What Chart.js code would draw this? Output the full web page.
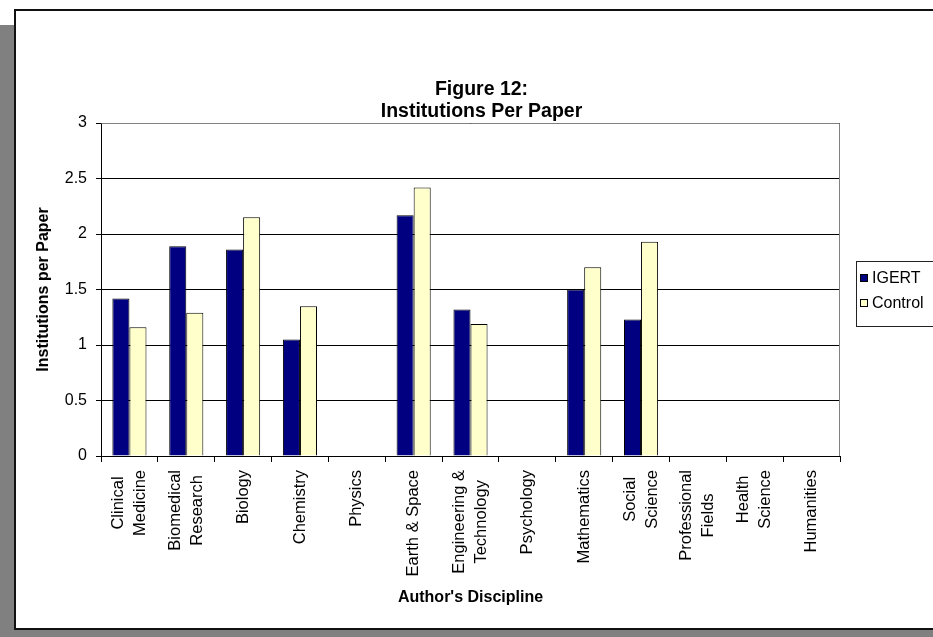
<!DOCTYPE html>
<html><head><meta charset="utf-8">
<script src="https://cdn.jsdelivr.net/npm/chart.js@4/dist/chart.umd.min.js"></script>
<style>
html,body{margin:0;padding:0;width:933px;height:637px;overflow:hidden;background:#fff;}
#shadow{position:absolute;left:0;top:25px;width:980px;height:660px;background:#808080;}
#panel{position:absolute;left:14px;top:9px;width:980px;height:617px;background:#fff;border:2px solid #111;}
#wrap{position:absolute;left:0;top:0;width:933px;height:637px;}
</style></head>
<body>
<div id="shadow"></div><div id="panel"></div>
<div id="wrap"><canvas id="c" width="933" height="637"></canvas></div>
<script>
const categories = [['Clinical','Medicine'],['Biomedical','Research'],'Biology','Chemistry','Physics','Earth & Space',['Engineering &','Technology'],'Psychology','Mathematics',['Social','Science'],['Professional','Fields'],['Health','Science'],'Humanities'];
const seriesNames = ['IGERT','Control'];
const igertValues = [1.42,1.89,1.86,1.05,null,2.17,1.32,null,1.50,1.23,null,null,null];
const controlValues = [1.16,1.29,2.15,1.35,null,2.42,1.19,null,1.70,1.93,null,null,null];
const yTickLabels = ['0','0.5','1','1.5','2','2.5','3'];
const titleLines = ['Figure 12:','Institutions Per Paper'];
const yTitle = 'Institutions per Paper';
const xTitle = "Author's Discipline";

const FONT = '"Liberation Sans", Arial, sans-serif';

const xLabelPlugin = {
  id:'xLabels',
  afterDraw(chart){
    const ctx = chart.ctx, xs = chart.scales.x;
    ctx.save();
    ctx.font = '16.5px ' + FONT;
    ctx.fillStyle = '#000';
    const lh = 22;
    chart.data.labels.forEach((lab,i)=>{
      const lines = Array.isArray(lab)?lab:[lab];
      const x = xs.getPixelForValue(i);
      const W = Math.max(...lines.map(l=>ctx.measureText(l).width));
      const cy = xs.top + 14 + W/2;
      lines.forEach((l,j)=>{
        const lx = x + (j-(lines.length-1)/2)*lh;
        ctx.save();
        ctx.translate(lx, cy);
        ctx.rotate(-Math.PI/2);
        ctx.textAlign='center'; ctx.textBaseline='middle';
        ctx.fillText(l,0,0);
        ctx.restore();
      });
    });
    ctx.restore();
  }
};

const framePlugin = {
  id:'plotFrame',
  afterDatasetsDraw(chart){
    const {ctx, chartArea:a} = chart;
    ctx.save();
    ctx.strokeStyle = '#808080'; ctx.lineWidth = 1;
    ctx.beginPath();
    ctx.moveTo(Math.round(a.left)+0.5, Math.round(a.top)+0.5);
    ctx.lineTo(Math.round(a.right)-0.5, Math.round(a.top)+0.5);
    ctx.lineTo(Math.round(a.right)-0.5, Math.round(a.bottom));
    ctx.stroke();
    ctx.restore();
  }
};

const legendPlugin = {
  id:'boxLegend',
  afterDraw(chart){
    const ctx = chart.ctx;
    ctx.save();
    ctx.strokeStyle = '#222'; ctx.lineWidth = 1;
    ctx.strokeRect(856.5, 261.5, 100, 65);
    ctx.font = '16px ' + FONT;
    ctx.textBaseline = 'middle'; ctx.textAlign = 'left';
    chart.data.datasets.forEach((ds,i)=>{
      const cy = 278 + i*25;
      ctx.fillStyle = ds.backgroundColor;
      ctx.fillRect(860, cy-4, 8, 8);
      ctx.strokeStyle = '#000';
      ctx.strokeRect(860.5, cy-3.5, 7, 7);
      ctx.fillStyle = '#000';
      ctx.fillText(ds.label, 872, cy+1);
    });
    ctx.restore();
  }
};

new Chart(document.getElementById('c'), {
  type:'bar',
  data:{
    labels: categories,
    datasets:[
      {label:seriesNames[0], data:igertValues, backgroundColor:'#000080', borderColor:'#000', borderWidth:1, categoryPercentage:0.6, barPercentage:1},
      {label:seriesNames[1], data:controlValues, backgroundColor:'#FFFFCC', borderColor:'#000', borderWidth:1, categoryPercentage:0.6, barPercentage:1}
    ]
  },
  options:{
    responsive:false, animation:false, devicePixelRatio:1,
    layout:{padding:{left:30,right:0,top:79,bottom:30}},
    plugins:{
      legend:{display:false}, tooltip:{enabled:false},
      title:{display:true, text:titleLines, color:'#000', padding:{top:0,bottom:0},
        font:{family:FONT, size:19.5, weight:'bold', lineHeight:22/19.5}}
    },
    scales:{
      x:{
        grid:{display:true, drawOnChartArea:false, drawTicks:true, tickLength:6, offset:true, color:'#000'},
        border:{display:true, color:'#000', width:1},
        ticks:{display:false, autoSkip:false},
        title:{display:true, text:xTitle, color:'#000', padding:{top:0,bottom:0}, font:{family:FONT, size:16, weight:'bold'}},
        afterFit(s){ s.height = 151; }
      },
      y:{
        min:0, max:3,
        afterBuildTicks(s){ s.ticks = yTickLabels.map(t=>({value:parseFloat(t)})); },
        grid:{color:'#000', tickLength:5, drawTicks:true},
        border:{display:true, color:'#000', width:1},
        ticks:{color:'#000', padding:9, font:{family:FONT, size:16},
          callback:(v,i)=>yTickLabels[i]},
        title:{display:true, text:yTitle, color:'#000', padding:{top:4,bottom:0}, font:{family:FONT, size:16, weight:'bold'}},
        afterFit(s){ s.width = 71; }
      },
      y2:{
        position:'right', display:true,
        grid:{display:false}, border:{display:false}, ticks:{display:false},
        afterFit(s){ s.width = 93; }
      }
    }
  },
  plugins:[framePlugin, xLabelPlugin, legendPlugin]
});
</script>
</body></html>
